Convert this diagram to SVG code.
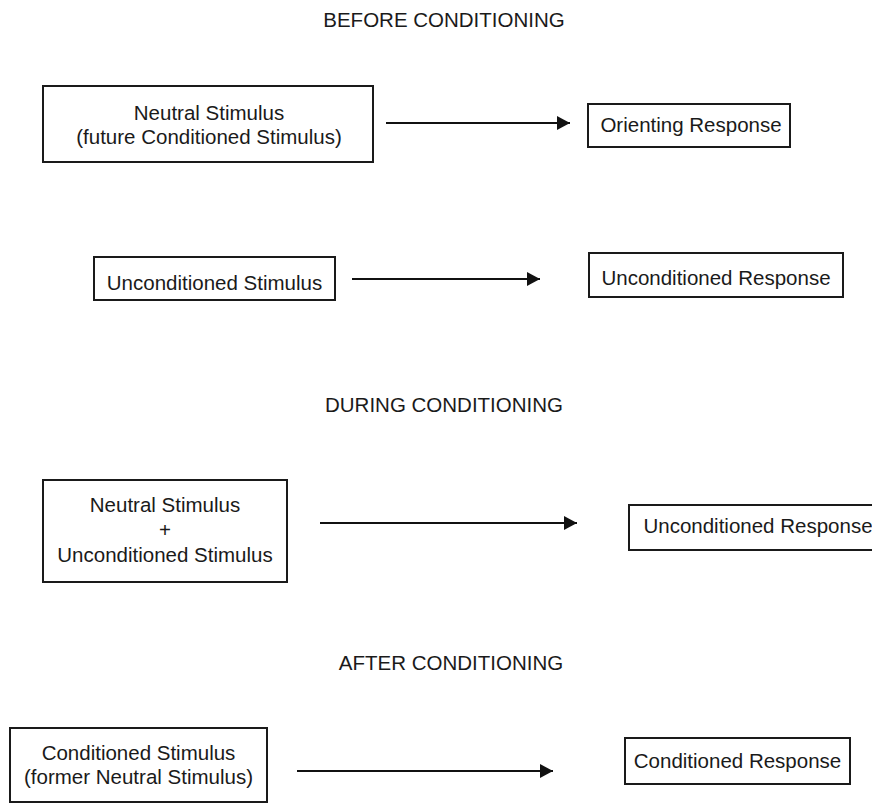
<svg xmlns="http://www.w3.org/2000/svg" width="872" height="804" viewBox="0 0 872 804">
  <style>
    .box { fill: #fff; stroke: #1a1a1a; stroke-width: 2; }
    .lbl { font-family: "Liberation Sans", Arial, sans-serif; font-size: 20.5px; fill: #1a1a1a; text-anchor: middle; }
    .title { font-family: "Liberation Sans", Arial, sans-serif; font-size: 20.5px; fill: #1a1a1a; text-anchor: middle; }
    .edge { stroke: #111; stroke-width: 2; fill: none; marker-end: url(#arrow); }
  </style>
  <defs>
    <marker id="arrow" markerUnits="userSpaceOnUse" markerWidth="14" markerHeight="16" refX="13" refY="7" orient="auto">
      <path d="M0,0 L13,7 L0,14 z" fill="#111"/>
    </marker>
  </defs>
  <rect width="872" height="804" fill="#fff"/>

  <!-- section titles -->
  <text class="title" x="444" y="27">BEFORE CONDITIONING</text>
  <text class="title" x="444" y="412">DURING CONDITIONING</text>
  <text class="title" x="451" y="670">AFTER CONDITIONING</text>

  <!-- before conditioning -->
  <g id="neutral-stimulus">
    <rect class="box" x="43" y="86" width="330" height="76"/>
    <text class="lbl" x="209" y="120">Neutral Stimulus</text>
    <text class="lbl" x="209" y="144">(future Conditioned Stimulus)</text>
  </g>
  <g id="orienting-response">
    <rect class="box" x="588" y="104" width="202" height="43"/>
    <text class="lbl" x="691" y="132">Orienting Response</text>
  </g>
  <g id="unconditioned-stimulus">
    <rect class="box" x="94" y="257" width="241" height="43"/>
    <text class="lbl" x="214.5" y="290">Unconditioned Stimulus</text>
  </g>
  <g id="unconditioned-response">
    <rect class="box" x="589" y="253" width="254" height="44"/>
    <text class="lbl" x="716" y="285">Unconditioned Response</text>
  </g>

  <!-- during conditioning -->
  <g id="paired-stimuli">
    <rect class="box" x="43" y="480" width="244" height="102"/>
    <text class="lbl" x="165" y="512">Neutral Stimulus</text>
    <text class="lbl" x="165" y="537">+</text>
    <text class="lbl" x="165" y="562">Unconditioned Stimulus</text>
  </g>
  <g id="unconditioned-response-2">
    <rect class="box" x="629" y="505" width="262" height="45"/>
    <text class="lbl" x="758" y="533">Unconditioned Response</text>
  </g>

  <!-- after conditioning -->
  <g id="conditioned-stimulus">
    <rect class="box" x="10" y="728" width="257" height="74"/>
    <text class="lbl" x="138.5" y="760">Conditioned Stimulus</text>
    <text class="lbl" x="138.5" y="784">(former Neutral Stimulus)</text>
  </g>
  <g id="conditioned-response">
    <rect class="box" x="625" y="738" width="225" height="46"/>
    <text class="lbl" x="737.5" y="768">Conditioned Response</text>
  </g>

  <g id="connectors">
    <line class="edge" x1="386" y1="123" x2="570" y2="123"/>
    <line class="edge" x1="352" y1="279" x2="540" y2="279"/>
    <line class="edge" x1="320" y1="523" x2="577" y2="523"/>
    <line class="edge" x1="297" y1="771" x2="553" y2="771"/>
  </g>
</svg>
